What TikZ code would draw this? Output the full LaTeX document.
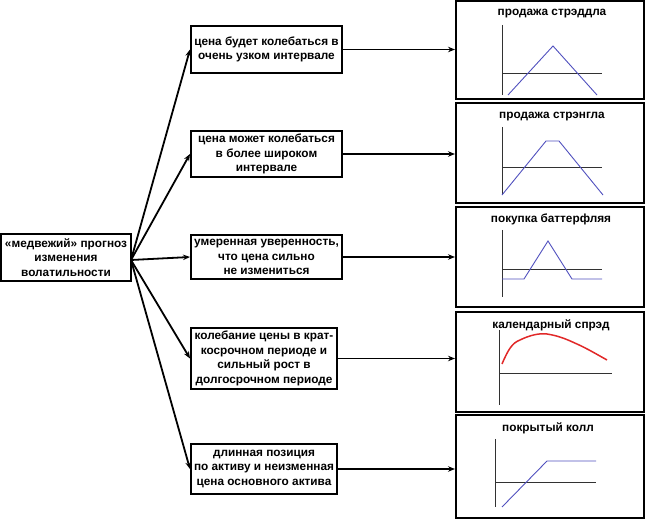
\documentclass[tikz,border=0pt]{standalone}
\usepackage{fontspec}
\setmainfont{Liberation Sans}
\usetikzlibrary{arrows.meta}
\definecolor{plotblue}{RGB}{80,80,190}
\definecolor{plotred}{RGB}{225,40,40}
\definecolor{axisgray}{RGB}{50,50,50}
\tikzset{
  txtbox/.style={draw=black,line width=2pt,align=center,inner sep=0pt,
    font=\fontsize{11.8}{14.6}\selectfont\bfseries},
  panel/.style={draw=black,line width=2pt,minimum width=188pt,inner sep=0pt},
  ptitle/.style={font=\fontsize{11.8}{13}\selectfont\bfseries,inner sep=0pt},
  conn/.style={line width=1.8pt,-{Stealth[length=7pt,width=5.5pt]}},
  axis/.style={line width=0.9pt,axisgray},
  curve/.style={line width=0.9pt,plotblue},
}
\begin{document}
\begin{tikzpicture}[x=1pt,y=-1pt]
\useasboundingbox (0,0) rectangle (646,521);
% left node
\node[txtbox,minimum width=130pt,minimum height=47pt] (src) at (66,257.5)
  {«медвежий» прогноз\\изменения\\волатильности};
\coordinate (srcpt) at (131,260);
% middle nodes
\node[txtbox,minimum width=151pt,minimum height=47pt] (m1) at (266.5,49.5)
  {цена будет колебаться в\\очень узком интервале};
\node[txtbox,minimum width=151pt,minimum height=46pt] (m2) at (266.5,154)
  {цена может колебаться\\в более широком\\интервале};
\node[txtbox,minimum width=151pt,minimum height=44pt] (m3) at (266.5,257)
  {умеренная уверенность,\\что цена сильно\\не измениться};
\node[txtbox,minimum width=146pt,minimum height=61pt] (m4) at (264,358.5)
  {колебание цены в крат-\\косрочном периоде и\\сильный рост в\\долгосрочном периоде};
\node[txtbox,minimum width=146pt,minimum height=50pt] (m5) at (264,469)
  {длинная позиция\\по активу и неизменная\\цена основного актива};
% right panels
\node[panel,minimum height=98pt] (p1) at (550,50) {};
\node[panel,minimum height=100pt] (p2) at (550,153) {};
\node[panel,minimum height=100pt] (p3) at (550,257) {};
\node[panel,minimum height=100pt] (p4) at (550,362) {};
\node[panel,minimum height=103pt] (p5) at (550,466.5) {};
% connectors
\foreach \i in {1,...,5} {
  \draw[conn] (srcpt) -- (m\i.west);
  \draw[conn] (m\i.east) -- (m\i.east -| p\i.west);
}
% panel 1
\node[ptitle] (t1) at (552,14) {продажа стрэддла};
\draw[axis] (502,25) -- (502,95);
\draw[axis] (502,73) -- (602,73);
\draw[curve] (508,95) -- (553,46) -- (597,95);
% panel 2
\node[ptitle] (t2) at (552,117) {продажа стрэнгла};
\draw[axis] (502,127) -- (502,195);
\draw[axis] (502,167) -- (602,167);
\draw[curve] (502,195) -- (546,141) -- (559,141) -- (603,195);
% panel 3
\node[ptitle] (t3) at (551,219) {покупка баттерфляя};
\draw[axis] (502,230) -- (502,297);
\draw[axis] (502,269) -- (602,269);
\draw[curve] (502,279) -- (524,279) -- (548,241) -- (572,279) -- (602,279);
% panel 4
\node[ptitle] (t4) at (551,325) {календарный спрэд};
\draw[axis] (499,330) -- (499,405);
\draw[axis] (499,373) -- (612,373);
\draw[line width=1.5pt,plotred] (502,364) .. controls (508,350) and (512,343) .. (520,340)
  .. controls (530,335) and (540,333) .. (547,334)
  .. controls (560,336) and (568,340) .. (577,344)
  .. controls (588,349) and (598,355) .. (607,360);
% panel 5
\node[ptitle] (t5) at (548,428) {покрытый колл};
\draw[axis] (495,439) -- (495,507);
\draw[axis] (495,482) -- (596,482);
\draw[curve] (502,507) -- (547,461) -- (596,461);
\end{tikzpicture}
\end{document}
